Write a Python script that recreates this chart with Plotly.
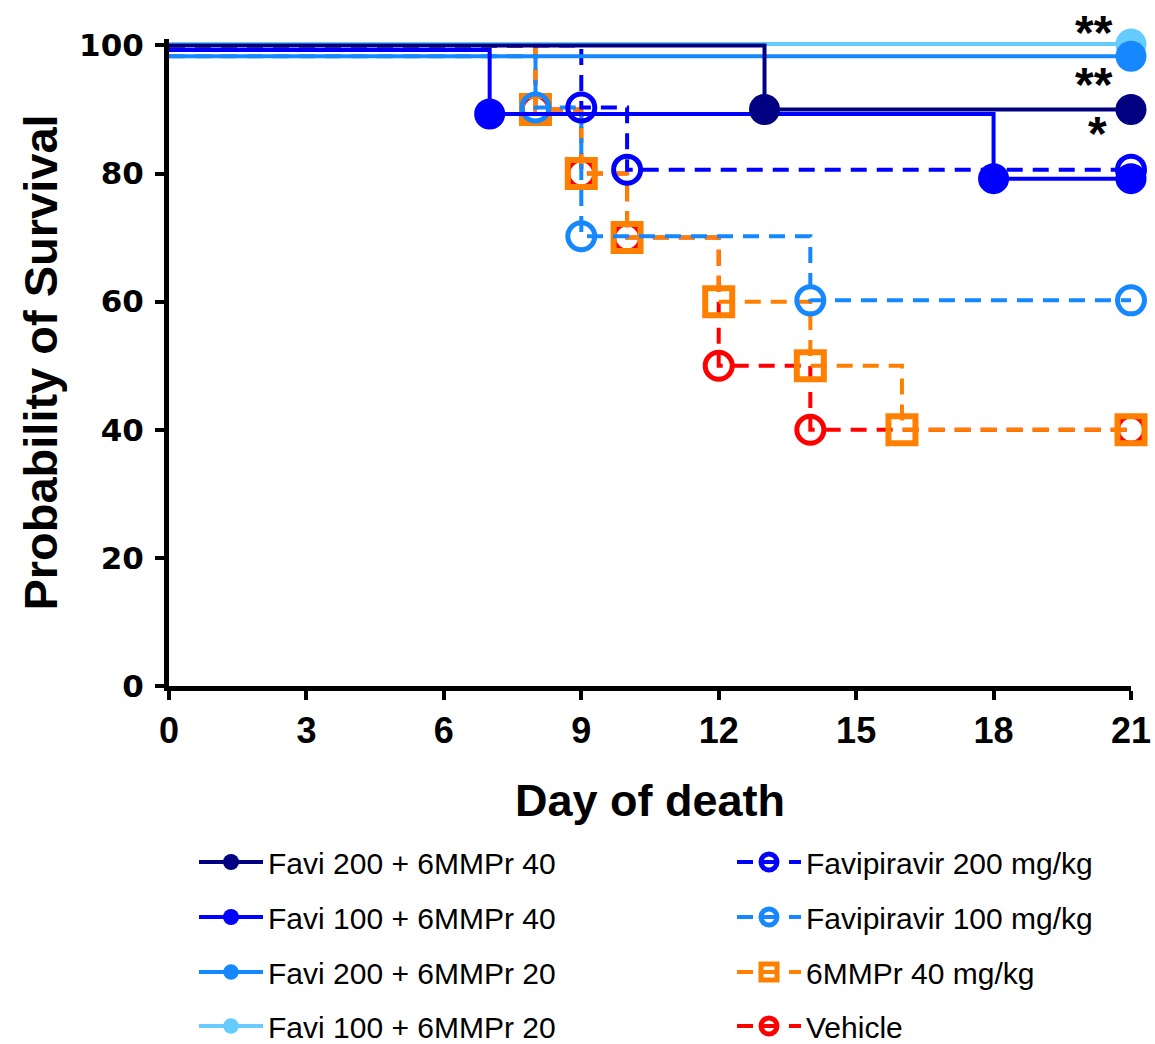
import plotly.graph_objects as go

# ---- data ----
series_names = [
    "Favi 200 + 6MMPr 40",
    "Favi 100 + 6MMPr 40",
    "Favi 200 + 6MMPr 20",
    "Favi 100 + 6MMPr 20",
    "Favipiravir 200 mg/kg",
    "Favipiravir 100 mg/kg",
    "6MMPr 40 mg/kg",
    "Vehicle",
]
days_f200_m40 = [0, 13, 21]
surv_f200_m40 = [100, 90, 90]
days_f100_m40 = [0, 7, 18, 21]
surv_f100_m40 = [99.3, 89.3, 79.2, 79.2]
days_f200_m20 = [0, 21]
surv_f200_m20 = [98.3, 98.3]
days_f100_m20 = [0, 21]
surv_f100_m20 = [100.2, 100.2]
days_fav200 = [0, 9, 10, 21]
surv_fav200 = [100, 90.3, 80.6, 80.6]
days_fav100 = [0, 8, 9, 14, 21]
surv_fav100 = [98.3, 90.3, 70.2, 60.2, 60.2]
days_mmpr = [0, 8, 9, 10, 12, 14, 16, 21]
surv_mmpr = [100, 90, 80, 70, 60, 50, 40, 40]
days_veh = [0, 8, 9, 10, 12, 14, 21]
surv_veh = [100, 90, 80, 70, 50, 40, 40]

x_ticks = [0, 3, 6, 9, 12, 15, 18, 21]
y_ticks = [0, 20, 40, 60, 80, 100]

stars_text = ["**", "**", "*"]
stars_x = [20.2, 20.2, 20.27]
stars_y = [102.0, 93.9, 86.2]

# ---- styles ----
NAVY, BLUE, DODGER, SKY = "#000080", "#0000FF", "#1688FF", "#66CCFF"
ORANGE, RED = "#FF8000", "#FF0000"

specs = [
    # name, days, surv, color, dash, symbol, legend id, legend slot
    (series_names[0], days_f200_m40, surv_f200_m40, NAVY, "solid", "circle", "legend", 0),
    (series_names[1], days_f100_m40, surv_f100_m40, BLUE, "solid", "circle", "legend2", 1),
    (series_names[2], days_f200_m20, surv_f200_m20, DODGER, "solid", "circle", "legend3", 2),
    (series_names[3], days_f100_m20, surv_f100_m20, SKY, "solid", "circle", "legend4", 3),
    (series_names[4], days_fav200, surv_fav200, BLUE, "dash", "circle-open", "legend5", 4),
    (series_names[5], days_fav100, surv_fav100, DODGER, "dash", "circle-open", "legend6", 5),
    (series_names[6], days_mmpr, surv_mmpr, ORANGE, "dash", "square-open", "legend7", 6),
    (series_names[7], days_veh, surv_veh, RED, "dash", "circle-open", "legend8", 7),
]

fig = go.Figure()
# draw in reverse so the first series sits on top
for name, d, s, col, dash, sym, leg, idx in reversed(specs):
    n = len(d)
    if sym == "circle":
        sizes = [0] + [31] * (n - 1)
        mline = dict(width=0, color=col)
    elif sym == "square-open":
        sizes = [0] + [27] * (n - 1)
        mline = dict(width=6, color=col)
    else:
        sizes = [0] + [27] * (n - 1)
        mline = dict(width=5, color=col)
    fig.add_trace(go.Scatter(
        x=d, y=s, name=name, mode="lines+markers",
        line=dict(shape="hv", color=col, width=4,
                  dash="16px,10px" if dash == "dash" else "solid"),
        marker=dict(symbol=sym, size=sizes, color=col, line=mline, opacity=1),
        opacity=1,
        cliponaxis=False, legend=leg,
    ))

# ---- layout ----
W, H = 1155, 1044
Y_TOP = 101
L, R, B = 169, 24, 358
PX_PER_UNIT = 6.41
T = round(45 - (Y_TOP - 100) * PX_PER_UNIT)
pw, ph = W - L - R, H - T - B

for t, sx, sy in zip(stars_text, stars_x, stars_y):
    y_in = min(sy, Y_TOP)
    fig.add_annotation(
        x=sx, y=y_in, xref="x", yref="y", text=t, showarrow=False,
        xanchor="center", yanchor="middle", yshift=(sy - y_in) * PX_PER_UNIT,
        font=dict(family="Arial, Liberation Sans", size=48, color="black", weight="bold"),
    )

def px_to_paper_x(px):
    return (px - L) / pw

def px_to_paper_y(py):
    return (H - B - py) / ph

col_left = [194, 732]
row_y = [862, 917, 972, 1026]
legend_layouts = {}
for name, d, s, col, dash, sym, leg, idx in specs:
    c, r = divmod(idx, 4)
    legend_layouts[leg] = dict(
        x=px_to_paper_x(col_left[c]), y=px_to_paper_y(row_y[r]),
        xanchor="left", yanchor="middle",
        bgcolor="rgba(0,0,0,0)", borderwidth=0,
        font=dict(family="Arial, Liberation Sans", size=30, color="black"),
        itemwidth=64,
    )

fig.update_layout(
    width=W, height=H,
    margin=dict(l=L, r=R, t=T, b=B, autoexpand=False),
    paper_bgcolor="white", plot_bgcolor="white",
    showlegend=True,
    **legend_layouts,
)
fig.update_xaxes(
    range=[0, 21], tickvals=x_ticks, ticktext=[str(v) for v in x_ticks],
    showgrid=False, zeroline=False, showline=True, linecolor="black", linewidth=5,
    ticks="outside", ticklen=9, tickwidth=4, tickcolor="black",
    tickfont=dict(family="Arial, Liberation Sans", size=36, color="black", weight="bold"),
    ticklabelstandoff=0,
    title=dict(text="<b>Day of death</b>", standoff=36,
               font=dict(family="Arial, Liberation Sans", size=45, color="black")),
)
fig.update_yaxes(
    range=[0, Y_TOP], tickvals=y_ticks, ticktext=[str(v) for v in y_ticks],
    showgrid=False, zeroline=False, showline=True, linecolor="black", linewidth=5,
    ticks="outside", ticklen=9, tickwidth=4, tickcolor="black",
    tickfont=dict(family="DejaVu Sans", size=31, color="black", weight="bold"),
    ticklabelstandoff=5,
    title=dict(text="<b>Probability of Survival</b>", standoff=8,
               font=dict(family="Arial, Liberation Sans", size=47, color="black")),
)

fig.write_html("out.html")
